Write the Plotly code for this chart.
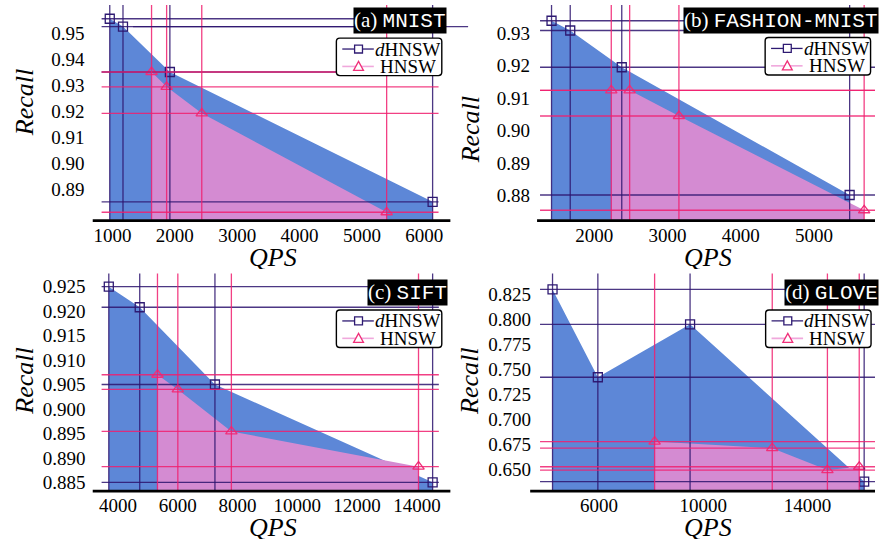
import plotly.graph_objects as go

W, H = 880, 550

# ---------------- data ----------------
# (a) MNIST
a_dhnsw_qps = [957, 1169, 1921, 6134]
a_dhnsw_recall = [0.9555, 0.9525, 0.935, 0.885]
a_hnsw_qps = [1627, 1869, 2432, 5397]
a_hnsw_recall = [0.935, 0.9293, 0.9191, 0.8810]
a_xticks = [1000, 2000, 3000, 4000, 5000, 6000]
a_yticks = [0.89, 0.90, 0.91, 0.92, 0.93, 0.94, 0.95]

# (b) FASHION-MNIST
b_dhnsw_qps = [1418, 1673, 2376, 5485]
b_dhnsw_recall = [0.9338, 0.9308, 0.9195, 0.8802]
b_hnsw_qps = [2233, 2484, 3156, 5683]
b_hnsw_recall = [0.9124, 0.9124, 0.9045, 0.8755]
b_xticks = [2000, 3000, 4000, 5000]
b_yticks = [0.88, 0.89, 0.90, 0.91, 0.92, 0.93]

# (c) SIFT
c_dhnsw_qps = [3690, 4725, 7242, 14527]
c_dhnsw_recall = [0.925, 0.9208, 0.905, 0.885]
c_hnsw_qps = [5319, 6000, 7792, 14055]
c_hnsw_recall = [0.907, 0.904, 0.8954, 0.8882]
c_xticks = [4000, 6000, 8000, 10000, 12000, 14000]
c_yticks = [0.885, 0.890, 0.895, 0.900, 0.905, 0.910, 0.915, 0.920, 0.925]

# (d) GLOVE
d_dhnsw_qps = [4212, 5951, 9490, 16170]
d_dhnsw_recall = [0.830, 0.742, 0.795, 0.6375]
d_hnsw_qps = [8129, 12643, 14760, 15981]
d_hnsw_recall = [0.6776, 0.671, 0.649, 0.6524]
d_xticks = [6000, 10000, 14000]
d_yticks = [0.650, 0.675, 0.700, 0.725, 0.750, 0.775, 0.800, 0.825]

series_names = ["<i>d</i>HNSW", "HNSW"]
panel_labels = ["(a)", "(b)", "(c)", "(d)"]
dataset_names = ["MNIST", "FASHION-MNIST", "SIFT", "GLOVE"]

# ---------------- style ----------------
BLUE_FILL = "#5d87d7"
PINK_FILL = "#d48bd2"
D_COL = "rgba(45,20,110,0.85)"
D_MARK = "#2e1a72"
P_COL = "rgba(240,30,110,0.85)"
P_MARK = "#f0307a"
P_LEG_LINE = "#f0a8dc"
SERIF = "Liberation Serif"
MONO = "Liberation Mono"


def px_x(v):
    return v / W


def px_y(v):
    return 1 - v / H


panels = [
    dict(d=(a_dhnsw_qps, a_dhnsw_recall), h=(a_hnsw_qps, a_hnsw_recall),
         xt=a_xticks, yt=a_yticks, yfmt=".2f", ystand=16,
         xdom=(95, 437), ydom=(5, 221), xr=(826, 6229), yr=(0.8781, 0.9608),
         axis_line=(86, 449, 221.8), ytitle=(17, 103), xtitle=(269, 258),
         tag=("right", 446, 21), leg=(333.3, 38.3)),
    dict(d=(b_dhnsw_qps, b_dhnsw_recall), h=(b_hnsw_qps, b_hnsw_recall),
         xt=b_xticks, yt=b_yticks, yfmt=".2f", ystand=9,
         xdom=(540, 880), ydom=(5, 221), xr=(1261, 5831), yr=(0.87257, 0.93866),
         axis_line=(537, 880, 221.8), ytitle=(469, 131), xtitle=(711, 258),
         tag=("left", 685, 21), leg=(768.5, 37.7)),
    dict(d=(c_dhnsw_qps, c_dhnsw_recall), h=(c_hnsw_qps, c_hnsw_recall),
         xt=c_xticks, yt=c_yticks, yfmt=".3f", ystand=15,
         xdom=(95, 437.3), ydom=(275, 493), xr=(3449, 14735), yr=(0.88337, 0.92770),
         axis_line=(86, 449, 493.8), ytitle=(17, 383), xtitle=(269, 530),
         tag=("right", 446.5, 294), leg=(333.3, 311.7)),
    dict(d=(d_dhnsw_qps, d_dhnsw_recall), h=(d_hnsw_qps, d_hnsw_recall),
         xt=d_xticks, yt=d_yticks, yfmt=".3f", ystand=8,
         xdom=(540, 880), ydom=(275, 493), xr=(3732, 16586), yr=(0.62878, 0.84592),
         axis_line=(530, 880, 493.8), ytitle=(469, 384), xtitle=(711, 530),
         tag=("left", 788, 294), leg=(769, 311.7)),
]

fig = go.Figure()
shapes = []
annotations = []
layout_extra = {}

# legend geometry (relative to legend box top-left, px)
LEG_W, LEG_H, LEG_R = 107, 37.7, 3.5
ROW_Y = (11, 28.5)
LINE_X = (6, 38)
SYM_X = 22.5
TEXT_X = 72.5


def rounded_rect_path(x0, y0, x1, y1, r):
    X = px_x
    Y = px_y
    return (f"M {X(x0 + r)},{Y(y0)} L {X(x1 - r)},{Y(y0)} Q {X(x1)},{Y(y0)} {X(x1)},{Y(y0 + r)} "
            f"L {X(x1)},{Y(y1 - r)} Q {X(x1)},{Y(y1)} {X(x1 - r)},{Y(y1)} "
            f"L {X(x0 + r)},{Y(y1)} Q {X(x0)},{Y(y1)} {X(x0)},{Y(y1 - r)} "
            f"L {X(x0)},{Y(y0 + r)} Q {X(x0)},{Y(y0)} {X(x0 + r)},{Y(y0)} Z")


for i, p in enumerate(panels):
    n = i + 1
    xa = "x" if n == 1 else f"x{n}"
    ya = "y" if n == 1 else f"y{n}"
    dx, dy = p["d"]
    hx, hy = p["h"]

    # filled areas
    fig.add_trace(go.Scatter(x=dx, y=dy, mode="lines", line=dict(width=0, color=BLUE_FILL),
                             fill="tozeroy", fillcolor=BLUE_FILL, showlegend=False,
                             hoverinfo="skip", xaxis=xa, yaxis=ya))
    fig.add_trace(go.Scatter(x=hx, y=hy, mode="lines", line=dict(width=0, color=PINK_FILL),
                             fill="tozeroy", fillcolor=PINK_FILL, showlegend=False,
                             hoverinfo="skip", xaxis=xa, yaxis=ya))
    # markers
    fig.add_trace(go.Scatter(x=dx, y=dy, mode="markers", name="dHNSW",
                             marker=dict(symbol="square-open", size=9, color=D_MARK,
                                         line=dict(width=1.3, color=D_MARK)),
                             showlegend=False, xaxis=xa, yaxis=ya))
    fig.add_trace(go.Scatter(x=hx, y=hy, mode="markers", name="HNSW",
                             marker=dict(symbol="triangle-up-open", size=10, color=P_MARK,
                                         line=dict(width=1.3, color=P_MARK)),
                             showlegend=False, xaxis=xa, yaxis=ya))

    # crosshair lines through each point
    for (xs, ys, col) in ((dx, dy, D_COL), (hx, hy, P_COL)):
        for xv, yv in zip(xs, ys):
            shapes.append(dict(type="line", xref=xa, yref=f"{ya} domain", x0=xv, x1=xv,
                               y0=0, y1=1, line=dict(color=col, width=1.3), layer="above"))
            shapes.append(dict(type="line", xref=f"{xa} domain", yref=ya, x0=0, x1=1,
                               y0=yv, y1=yv, line=dict(color=col, width=1.3), layer="above"))

    if n == 1:
        # offset horizontal line of the second dHNSW point, running past the panel
        frac = (a_dhnsw_qps[1] - p["xr"][0]) / (p["xr"][1] - p["xr"][0])
        shapes.append(dict(type="line", xref="x domain", yref="y", x0=frac + 0.03,
                           x1=(467 - 95) / (437 - 95),
                           y0=a_dhnsw_recall[1], y1=a_dhnsw_recall[1],
                           line=dict(color=D_COL, width=1.3), layer="above"))

    # thick bottom axis line
    x0p, x1p, yp = p["axis_line"]
    shapes.append(dict(type="line", xref="paper", yref="paper", x0=px_x(x0p), x1=px_x(x1p),
                       y0=px_y(yp), y1=px_y(yp), line=dict(color="black", width=2.6),
                       layer="above"))

    # axes
    xdom = [px_x(p["xdom"][0]), px_x(p["xdom"][1])]
    ydom = [px_y(p["ydom"][1]), px_y(p["ydom"][0])]
    layout_extra[f"xaxis{'' if n == 1 else n}"] = dict(
        domain=xdom, range=list(p["xr"]), anchor=ya, tickvals=p["xt"], tickformat="d",
        ticks="", showgrid=False, zeroline=False, showline=False, ticklabelstandoff=2,
        tickfont=dict(family=SERIF, size=19, color="black"))
    layout_extra[f"yaxis{'' if n == 1 else n}"] = dict(
        domain=ydom, range=list(p["yr"]), anchor=xa, tickvals=p["yt"], tickformat=p["yfmt"],
        ticks="", showgrid=False, zeroline=False, showline=False,
        ticklabelstandoff=p["ystand"],
        tickfont=dict(family=SERIF, size=19, color="black"))

    # hand-drawn legend box (drawn after the crosshair lines so it covers them)
    lx, ly = p["leg"]
    shapes.append(dict(type="path", xref="paper", yref="paper",
                       path=rounded_rect_path(lx, ly, lx + LEG_W, ly + LEG_H, LEG_R),
                       fillcolor="white", line=dict(color="black", width=1.4), layer="above"))
    # row 1: dHNSW
    r1 = ly + ROW_Y[0]
    shapes.append(dict(type="line", xref="paper", yref="paper",
                       x0=px_x(lx + LINE_X[0]), x1=px_x(lx + LINE_X[1]),
                       y0=px_y(r1), y1=px_y(r1), line=dict(color=D_MARK, width=1.3),
                       layer="above"))
    shapes.append(dict(type="rect", xref="paper", yref="paper",
                       x0=px_x(lx + SYM_X - 4), x1=px_x(lx + SYM_X + 4),
                       y0=px_y(r1 - 4), y1=px_y(r1 + 4),
                       fillcolor="white", line=dict(color=D_MARK, width=1.3), layer="above"))
    # row 2: HNSW
    r2 = ly + ROW_Y[1]
    shapes.append(dict(type="line", xref="paper", yref="paper",
                       x0=px_x(lx + LINE_X[0]), x1=px_x(lx + LINE_X[1]),
                       y0=px_y(r2), y1=px_y(r2), line=dict(color=P_LEG_LINE, width=1.6),
                       layer="above"))
    cx = lx + SYM_X
    tri = (f"M {px_x(cx - 5)},{px_y(r2 + 4)} L {px_x(cx + 5)},{px_y(r2 + 4)} "
           f"L {px_x(cx)},{px_y(r2 - 5)} Z")
    shapes.append(dict(type="path", xref="paper", yref="paper", path=tri,
                       fillcolor="white", line=dict(color=P_MARK, width=1.3), layer="above"))
    for name, ry in zip(series_names, (r1, r2)):
        annotations.append(dict(xref="paper", yref="paper", x=px_x(lx + TEXT_X), y=px_y(ry),
                                text=name, showarrow=False, xanchor="center",
                                yanchor="middle", height=17, valign="middle",
                                font=dict(family=SERIF, size=19, color="black")))

    # axis titles
    tx, ty = p["ytitle"]
    annotations.append(dict(xref="paper", yref="paper", x=px_x(tx), y=px_y(ty),
                            text="<i>Recall</i>", textangle=-90, showarrow=False,
                            xanchor="center", yanchor="middle",
                            font=dict(family=SERIF, size=26, color="black")))
    tx, ty = p["xtitle"]
    annotations.append(dict(xref="paper", yref="paper", x=px_x(tx), y=px_y(ty),
                            text="<i>QPS</i>", showarrow=False,
                            xanchor="center", yanchor="middle", height=24,
                            font=dict(family=SERIF, size=26, color="black")))
    # panel tag
    anc, tagx, tagy = p["tag"]
    annotations.append(dict(xref="paper", yref="paper", x=px_x(tagx), y=px_y(tagy),
                            text=f"{panel_labels[i]} <span style=\"font-family:{MONO}\">{dataset_names[i]}</span>",
                            showarrow=False, xanchor=anc, yanchor="middle",
                            bgcolor="black", borderpad=0,
                            font=dict(family=SERIF, size=21, color="white")))

fig.update_layout(
    width=W, height=H, margin=dict(l=0, r=0, t=0, b=0),
    paper_bgcolor="white", plot_bgcolor="rgba(0,0,0,0)",
    showlegend=False,
    shapes=shapes, annotations=annotations,
    font=dict(family=SERIF, size=19, color="black"),
    **layout_extra,
)

fig.write_html("out.html")
